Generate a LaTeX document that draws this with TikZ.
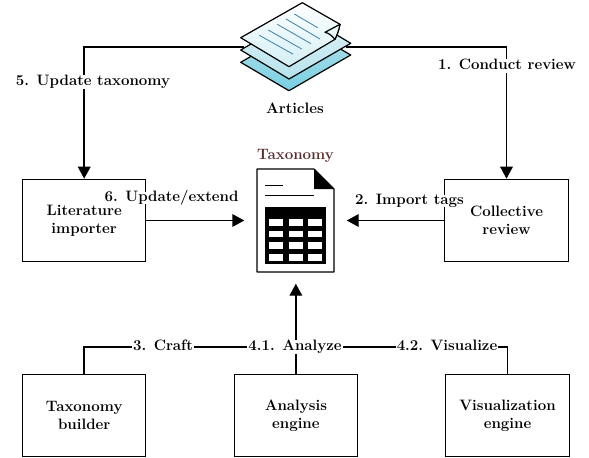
\documentclass[tikz,border=0pt]{standalone}
\usepackage{xcolor}
\usepackage{tikz}
\usetikzlibrary{positioning,arrows.meta}

\definecolor{sheetlow}{HTML}{78CFE2}
\definecolor{sheetmid}{HTML}{B5E2EC}
\definecolor{sheetlight}{HTML}{D3EFF4}
\definecolor{sheetline}{HTML}{3F7FA8}
\definecolor{taxbrown}{HTML}{5A2D2D}

\begin{document}
\begin{tikzpicture}[
    x=0.75pt, y=-0.75pt,
    font=\bfseries\fontsize{11.3}{13.75}\selectfont,
    >={Triangle[length=9pt,width=9.5pt]},
    line width=1.1pt,
    block/.style={draw, rectangle, align=center, line width=0.75pt, minimum width=92.5pt, minimum height=62pt},
    anchorbox/.style={rectangle, inner sep=0pt},
    steplabel/.style={inner sep=0.3pt, text height=0.7em, text depth=0.2em},
    sheet/.style={draw=black, line width=0.9pt, line join=round}
]
\useasboundingbox (0,0) rectangle (589,457);

% upper row
\node[block] (literature) at (84.2,220.5) {Literature\\importer};
\node[block] (review) at (506.5,220.5) {Collective\\review};

% lower row
\node[block, below=83.5pt of literature] (builder) {Taxonomy\\builder};
\node[block, right=65.5pt of builder] (analysis) {Analysis\\engine};
\node[block, right=65.5pt of analysis] (visual) {Visualization\\engine};

% icon places
\node[anchorbox, minimum width=75pt, minimum height=67.5pt] (articles) at (295,47) {};
\node[anchorbox, minimum width=75.75pt, minimum height=93pt] (taxonomy) at (295.5,221) {};
\node[anchorbox] (articlestext) at (295,108) {Articles};
\node[anchorbox, text=taxbrown] (taxonomytext) at (295.5,156) {Taxonomy};

% step labels on the lines
\node[steplabel] (step5) at (93,82) {5. Update taxonomy};
\node[steplabel] (step1) at (507,66) {1. Conduct review};
\node[steplabel] (step3) at (163,347) {3. Craft};
\node[steplabel] (step41) at (295,347) {4.1. Analyze};
\node[steplabel] (step42) at (447,347) {4.2. Visualize};

% arrows
\draw (articles.west) -| (step5.north -| literature.north);
\draw[->] (step5.south -| literature.north) -- (literature.north);
\draw (articles.east) -| (step1.north -| review.north);
\draw[->] (step1.south -| review.north) -- (review.north);
\draw[->] (literature.east) -- (literature.east -| taxonomy.west);
\draw[->] (review.west) -- (review.west -| taxonomy.east);
\draw (builder.north) |- (step3.west);
\draw (step3.east) -- (step41.west);
\draw (step41.east) -- (step42.west);
\draw (step42.east) -| (visual.north);
\draw (analysis.north) -- (analysis.north |- step41.south);
\draw[->] (analysis.north |- step41.north) -- (analysis.north |- taxonomy.south);

% labels over the boxes
\node[steplabel, fill=white] (step6) at (171.5,198) {6. Update/extend};
\node[steplabel, fill=white] (step2) at (409.5,201) {2. Import tags};

% article stack
\draw[sheet, top color=sheetmid, bottom color=sheetlow]
    (240.7,62.3) -- (302.3,26.7) -- (350.7,55) -- (289,90.7) -- cycle;
\draw[sheet, top color=sheetlight!60!white, bottom color=sheetmid]
    (240.7,50) -- (302.3,14.3) -- (350.7,43.3) -- (289,79) -- cycle;
\draw[sheet, top color=white, bottom color=sheetlight]
    (240.7,37.7) -- (302.3,2.7) -- (340,24.3) .. controls (339,30) and (337,35) .. (335,39.3) -- (289,66.7) -- cycle;
\draw[sheet, fill=sheetlight!50!white] (340,24.3) -- (325,32.3) .. controls (329,33) and (332,36) .. (335,39.3) .. controls (337,35) and (339,30) .. (340,24.3) -- cycle;
\foreach \xa/\ya/\xb/\yb in {259.3/35.3/293.3/54.3, 268.3/30/301.7/49, 277.3/24.3/311/43.7, 286/19/320/39, 294.3/14/317.7/27.7}
    \draw[sheetline, line width=0.6pt] (\xa,\ya) -- (\xb,\yb);

% taxonomy document
\draw[line width=0.9pt, fill=white, line join=round] (257,169) -- (314,169) -- (334,189) -- (334,272) -- (257,272) -- cycle;
\fill (314,169) -- (334,189) -- (314,189) -- cycle;
\draw (265,185.7) -- (283,185.7);
\draw (265,195.7) -- (314,195.7);
\fill (265,207) rectangle (326,264);
\foreach \ya in {219,230.7,242.3,254}
    \foreach \xa in {269,288.5,308}
        \fill[white] (\xa,\ya) rectangle ++(14.3,6.7);

\end{tikzpicture}
\end{document}
